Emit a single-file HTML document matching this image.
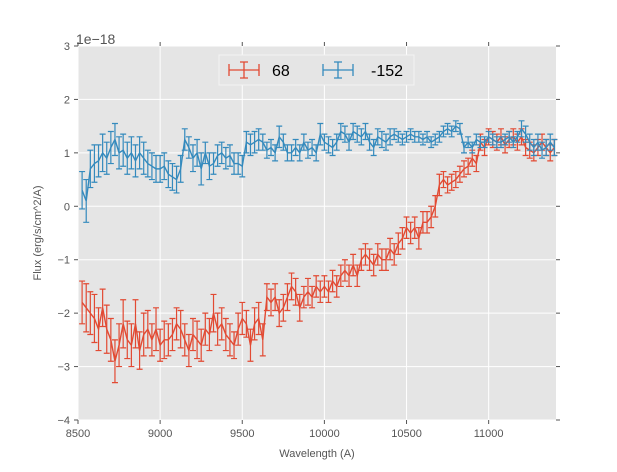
<!DOCTYPE html>
<html><head><meta charset="utf-8"><style>
body{margin:0;background:#fff;font-family:"Liberation Sans",sans-serif}
svg text{font-family:"Liberation Sans",sans-serif}
</style></head><body>
<svg id="chart" width="617" height="467" xmlns="http://www.w3.org/2000/svg">
<rect x="0" y="0" width="617" height="467" fill="#fff"/>
<rect x="78" y="46" width="478" height="374" fill="#e5e5e5"/>
<g id="grid"></g>
<g id="ticks"></g>
<g id="series"></g>
<text x="76" y="44" font-size="14" fill="#555">1e−18</text>
<text x="317" y="457" font-size="11" fill="#555" text-anchor="middle">Wavelength (A)</text>
<text x="0" y="0" font-size="11" fill="#555" text-anchor="middle" transform="translate(41,233) rotate(-90)">Flux (erg/s/cm^2/A)</text>
<g>
<rect x="219" y="55" width="195" height="30" fill="#e5e5e5" stroke="#f4f4f4" stroke-width="1"/>
<g>
<path d="M229,70H259M244,62V78M240,62H248M240,78H248M229,64V76M259,64V76" stroke="#E24A33" stroke-width="1.3" fill="none"/>
<text x="272" y="76" font-size="16" fill="#000">68</text></g>
<g>
<path d="M323,70H353M338,62V78M334,62H342M334,78H342M323,64V76M353,64V76" stroke="#348ABD" stroke-width="1.3" fill="none"/>
<text x="371" y="76" font-size="16" fill="#000">-152</text></g>
</g>
</svg>
<script>
const wavelengths = [8525,8550,8575,8600,8625,8650,8675,8700,8725,8750,8775,8800,8825,8850,8875,8900,8925,8950,8975,9000,9025,
9050,9075,9100,9125,9150,9175,9200,9225,9250,9275,9300,9325,9350,9375,9400,9425,9450,9475,9500,9525,9550,9575,9600,
9625,9650,9675,9700,9725,9750,9775,9800,9825,9850,9875,9900,9925,9950,9975,10000,10025,10050,10075,10100,
10125,10150,10175,10200,10225,10250,10275,10300,10325,10350,10375,10400,10425,10450,10475,10500,10525,10550,10575,10600,
10625,10650,10675,10700,10725,10750,10775,10800,10825,10850,10875,10900,10925,10950,10975,11000,11025,11050,11075,11100,11125,11150,11175,11200,11225,11250,11275,11300,11325,11350,11375,11400];
const flux68 = [-1.8,-1.9,-2.0,-2.1,-2.3,-1.9,-2.3,-2.5,-2.9,-2.6,-2.2,-2.5,-2.6,-2.2,-2.7,-2.4,-2.3,-2.5,-2.3,-2.6,-2.5,
-2.5,-2.4,-2.2,-2.3,-2.5,-2.7,-2.4,-2.5,-2.6,-2.3,-2.4,-2.0,-2.3,-2.2,-2.4,-2.5,-2.6,-2.3,-2.1,-2.2,-2.6,-2.2,-2.1,
-2.5,-1.7,-1.8,-1.7,-2.0,-1.9,-1.7,-1.5,-1.6,-1.9,-1.7,-1.6,-1.7,-1.5,-1.6,-1.5,-1.6,-1.4,-1.5,-1.3,
-1.2,-1.3,-1.1,-1.3,-1.0,-0.9,-1.0,-1.1,-0.9,-1.0,-1.0,-0.8,-0.9,-0.7,-0.6,-0.4,-0.5,-0.4,-0.6,-0.3,
-0.3,-0.2,0.0,0.4,0.5,0.4,0.45,0.5,0.6,0.7,0.75,0.9,0.8,1.2,1.1,1.3,1.25,1.2,1.3,1.15,1.25,1.3,1.2,1.3,1.1,1.05,1.0,1.1,1.2,1.1,1.0,1.1];
const err68 = [0.4,0.45,0.4,0.45,0.4,0.35,0.45,0.4,0.4,0.4,0.45,0.35,0.4,0.45,0.35,0.4,0.35,0.3,0.4,0.3,0.35,
0.3,0.3,0.3,0.35,0.3,0.3,0.3,0.35,0.3,0.3,0.3,0.35,0.3,0.3,0.3,0.3,0.25,0.3,0.3,0.25,0.3,0.3,0.3,
0.3,0.25,0.25,0.25,0.25,0.25,0.25,0.25,0.25,0.25,0.2,0.25,0.2,0.2,0.2,0.2,0.2,0.2,0.2,0.2,
0.2,0.2,0.2,0.2,0.2,0.2,0.2,0.2,0.2,0.2,0.2,0.2,0.2,0.2,0.2,0.2,0.2,0.2,0.2,0.2,
0.2,0.2,0.2,0.2,0.15,0.15,0.15,0.15,0.15,0.15,0.15,0.15,0.15,0.15,0.15,0.15,0.15,0.15,0.15,0.15,0.15,0.15,0.15,0.15,0.15,0.15,0.15,0.15,0.15,0.15,0.15,0.15];
const fluxNeg152 = [0.3,0.1,0.7,0.8,0.85,1.0,0.9,1.1,1.25,1.0,1.05,0.9,1.0,0.85,1.0,0.9,0.8,0.75,0.7,0.7,0.75,
0.6,0.55,0.5,0.7,1.25,1.1,0.9,1.0,0.7,1.0,0.75,0.8,0.95,1.0,0.9,0.95,0.8,0.8,0.75,1.2,1.15,1.2,1.25,
1.2,1.05,1.1,1.0,1.3,1.2,1.0,1.0,1.1,1.0,1.2,1.05,1.1,1.0,1.35,1.2,1.15,1.1,1.2,1.4,
1.35,1.2,1.4,1.35,1.3,1.4,1.2,1.1,1.3,1.25,1.2,1.3,1.35,1.3,1.25,1.3,1.35,1.3,1.3,1.25,
1.3,1.2,1.25,1.3,1.4,1.45,1.4,1.5,1.45,1.1,1.2,1.1,1.25,1.2,1.2,1.3,1.25,1.2,1.2,1.25,1.3,1.2,1.3,1.45,1.35,1.2,1.1,1.2,1.05,1.1,1.2,1.1];
const errNeg152 = [0.35,0.4,0.35,0.35,0.3,0.35,0.3,0.3,0.3,0.3,0.3,0.3,0.3,0.3,0.3,0.3,0.25,0.25,0.25,0.25,0.25,
0.25,0.25,0.25,0.25,0.2,0.2,0.25,0.25,0.3,0.2,0.25,0.2,0.2,0.2,0.2,0.2,0.2,0.2,0.2,0.2,0.2,0.2,0.2,
0.15,0.15,0.15,0.15,0.2,0.15,0.15,0.15,0.15,0.15,0.15,0.15,0.15,0.15,0.2,0.15,0.15,0.15,0.15,0.15,
0.15,0.15,0.15,0.15,0.15,0.15,0.15,0.15,0.15,0.15,0.15,0.15,0.1,0.1,0.1,0.1,0.1,0.1,0.1,0.1,
0.1,0.1,0.1,0.1,0.1,0.1,0.1,0.1,0.1,0.1,0.1,0.1,0.1,0.1,0.1,0.1,0.1,0.1,0.1,0.1,0.1,0.1,0.1,0.15,0.15,0.15,0.15,0.15,0.15,0.15,0.15,0.15];
const xTicks = [8500,9000,9500,10000,10500,11000];
const yTicks = [-4,-3,-2,-1,0,1,2,3];

const X0=78,X1=556,Y0=46,Y1=420,XMIN=8500,XMAX=11410,YMIN=-4,YMAX=3;
function sx(v){return X0+(v-XMIN)/(XMAX-XMIN)*(X1-X0);}
function sy(v){return Y1-(v-YMIN)/(YMAX-YMIN)*(Y1-Y0);}
const NS="http://www.w3.org/2000/svg";
function mk(tag,attrs,parent){const e=document.createElementNS(NS,tag);for(const k in attrs)e.setAttribute(k,attrs[k]);parent.appendChild(e);return e;}
const grid=document.getElementById('grid'),ticks=document.getElementById('ticks'),series=document.getElementById('series');
xTicks.forEach(t=>{
  const x=sx(t);
  const g=mk('line',{x1:x,x2:x,y1:Y0,y2:Y1,stroke:'#fff','stroke-width':1},grid);
  
  
  mk('line',{x1:x,x2:x,y1:Y1,y2:Y1+4,stroke:'#555'},ticks);
  mk('line',{x1:x,x2:x,y1:Y0,y2:Y0-4,stroke:'#555'},ticks);
  const l=mk('text',{x:x,y:Y1+17,'font-size':11,fill:'#555','text-anchor':'middle'},ticks);
  l.textContent=t;
  
  
});
yTicks.forEach(t=>{
  const y=sy(t);
  const g=mk('line',{x1:X0,x2:X1,y1:y,y2:y,stroke:'#fff','stroke-width':1},grid);
  
  
  mk('line',{x1:X0-4,x2:X0,y1:y,y2:y,stroke:'#555'},ticks);
  mk('line',{x1:X1,x2:X1+4,y1:y,y2:y,stroke:'#555'},ticks);
  const l=mk('text',{x:X0-8,y:y+4,'font-size':11,fill:'#555','text-anchor':'end'},ticks);
  l.textContent=(t<0?'−'+(-t):t);
  
  
});
function drawSeries(vals,errs,color,name){
  const g=mk('g',{},series);
  
  
  let d='',pts=[];
  wavelengths.forEach((w,i)=>{
    const x=sx(w),lo=sy(vals[i]-errs[i]),hi=sy(vals[i]+errs[i]);
    d+=`M${x},${lo}V${hi}M${x-3},${lo}H${x+3}M${x-3},${hi}H${x+3}`;
    pts.push(x+','+sy(vals[i]));
  });
  const eb=mk('path',{d:d,stroke:color,'stroke-width':1.2,fill:'none'},g);
  
  
  const ln=mk('polyline',{points:pts.join(' '),stroke:color,'stroke-width':1.4,fill:'none'},g);
  
  
}
drawSeries(flux68,err68,'#E24A33','series-68');
drawSeries(fluxNeg152,errNeg152,'#348ABD','series-minus-152');
</script>
</body></html>
